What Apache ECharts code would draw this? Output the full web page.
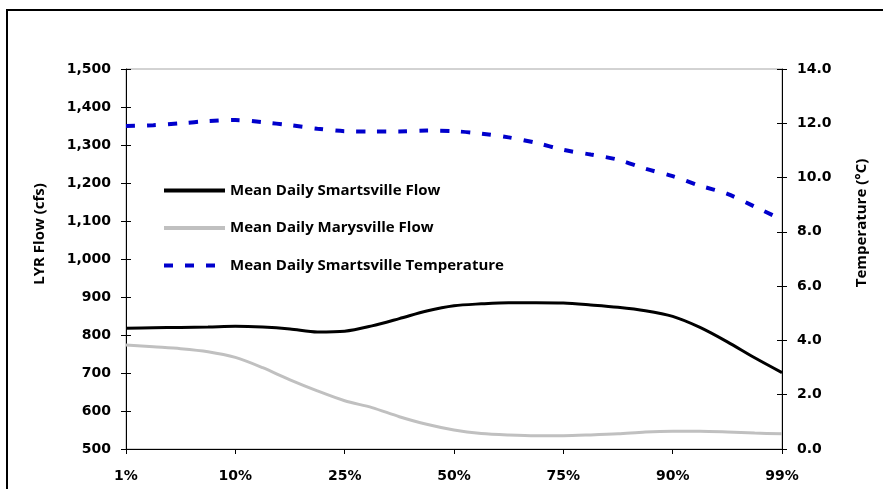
<!DOCTYPE html>
<html>
<head>
<meta charset="utf-8">
<script src="https://cdn.jsdelivr.net/npm/echarts@6/dist/echarts.min.js"></script>
<style>
  html, body { margin: 0; padding: 0; background: #fff; }
  #chart { width: 883px; height: 489px; }
</style>
</head>
<body>
<div id="chart"></div>
<script>
// Exceedance percentiles shown on the x axis; four data steps between labels
const xTickLabels = ['1%', '10%', '25%', '50%', '75%', '90%', '99%'];
const stepsPerLabel = 4;

// Mean daily flow at Smartsville (cfs)
const smartsvilleFlow = [818, 819, 820, 821, 823, 821, 816, 808, 810, 824, 843, 863, 877,
  882, 885, 885, 884, 879, 873, 864, 849, 820, 782, 740, 701];

// Mean daily flow at Marysville (cfs)
const marysvilleFlow = [774, 769, 764, 756, 741, 714, 682, 653, 627, 609, 585, 565, 550,
  541, 537, 535, 535, 537, 540, 545, 547, 547, 545, 542, 540];

// Mean daily water temperature at Smartsville (°C)
const smartsvilleTemp = [11.9, 11.93, 12.0, 12.08, 12.12, 12.04, 11.93, 11.8, 11.71, 11.7,
  11.7, 11.73, 11.71, 11.62, 11.48, 11.28, 11.02, 10.85, 10.66, 10.33, 10.05, 9.7, 9.4,
  8.93, 8.45];

const seriesNames = ['Mean Daily Smartsville Flow', 'Mean Daily Marysville Flow',
  'Mean Daily Smartsville Temperature'];

// Category slots: a label every stepsPerLabel points, blanks in between
const categories = [];
xTickLabels.forEach((lab, i) => {
  categories.push(lab);
  if (i < xTickLabels.length - 1) {
    for (let k = 1; k < stepsPerLabel; k++) categories.push('');
  }
});

const TEXT_FONT = '"Open Sans", "Liberation Sans", sans-serif';
const NUM_FONT = '"DejaVu Sans", sans-serif';
const labelStyle = { color: '#000', fontWeight: 'bold', fontSize: 14, fontFamily: NUM_FONT };

const chart = echarts.init(document.getElementById('chart'), null, { renderer: 'canvas' });

const baseX = {
  type: 'category',
  data: categories,
  boundaryGap: false,
  axisLine: { show: true, lineStyle: { color: '#000', width: 1 } },
  axisTick: { show: true, interval: stepsPerLabel - 1, length: 5, lineStyle: { color: '#000' } },
  axisLabel: Object.assign({ interval: stepsPerLabel - 1, margin: 20 }, labelStyle),
  splitLine: { show: false }
};

function yAxisDef(pos, min, max, interval, fmt, inside) {
  return {
    type: 'value',
    position: pos,
    min: min, max: max, interval: interval,
    axisLine: { show: !inside, lineStyle: { color: '#000', width: 1 } },
    axisTick: { show: true, inside: inside, length: 5, lineStyle: { color: '#000' } },
    axisLabel: Object.assign({ show: !inside, margin: 15, formatter: fmt }, labelStyle),
    splitLine: { show: false }
  };
}

const flowFmt = v => v.toLocaleString('en-US');
const tempFmt = v => v.toFixed(1);

chart.setOption({
  animation: false,
  backgroundColor: '#fff',
  grid: {
    left: 126, right: 101, top: 69, bottom: 40,
    show: true, borderColor: '#a6a6a6', borderWidth: 1, backgroundColor: 'transparent'
  },
  xAxis: [
    baseX,
    Object.assign({}, baseX, {
      axisLine: { show: false },
      axisTick: { show: true, inside: true, interval: stepsPerLabel - 1, length: 5, lineStyle: { color: '#000' } },
      axisLabel: { show: false }
    })
  ],
  yAxis: [
    yAxisDef('left', 500, 1500, 100, flowFmt, false),
    yAxisDef('right', 0, 14, 2, tempFmt, false),
    yAxisDef('left', 500, 1500, 100, flowFmt, true),
    yAxisDef('right', 0, 14, 2, tempFmt, true)
  ],
  legend: {
    orient: 'vertical',
    left: 162, top: 183, padding: 0,
    itemWidth: 61, itemHeight: 14, itemGap: 22.5,
    itemStyle: { opacity: 0 },
    lineStyle: { width: 4 },
    textStyle: { color: '#000', fontWeight: 'bold', fontSize: 15, fontFamily: TEXT_FONT },
    data: seriesNames
  },
  series: [
    {
      name: seriesNames[0], type: 'line', xAxisIndex: 0, yAxisIndex: 0,
      data: smartsvilleFlow, smooth: 0.3, symbol: 'none',
      lineStyle: { color: '#000', width: 3 }, itemStyle: { color: '#000' }, z: 3
    },
    {
      name: seriesNames[1], type: 'line', xAxisIndex: 0, yAxisIndex: 0,
      data: marysvilleFlow, smooth: 0.3, symbol: 'none',
      lineStyle: { color: '#c0c0c0', width: 3 }, itemStyle: { color: '#c0c0c0' }, z: 2
    },
    {
      name: seriesNames[2], type: 'line', xAxisIndex: 0, yAxisIndex: 1,
      data: smartsvilleTemp, smooth: 0.3, symbol: 'none',
      lineStyle: { color: '#0000cc', width: 4, type: [9, 12] }, itemStyle: { color: '#0000cc' }, z: 4
    }
  ],
  graphic: [
    {
      type: 'rect', silent: true,
      shape: { x: 7, y: 10, width: 900, height: 520 },
      style: { fill: 'none', stroke: '#000', lineWidth: 2 }
    },
    {
      type: 'text', x: 40, y: 234, rotation: Math.PI / 2,
      style: { text: 'LYR Flow (cfs)', fill: '#000', font: 'bold 15px ' + TEXT_FONT, align: 'center', verticalAlign: 'middle' }
    },
    {
      type: 'text', x: 862, y: 223, rotation: Math.PI / 2,
      style: { text: 'Temperature (°C)', fill: '#000', font: 'bold 15px ' + TEXT_FONT, align: 'center', verticalAlign: 'middle' }
    }
  ]
});
</script>
</body>
</html>
